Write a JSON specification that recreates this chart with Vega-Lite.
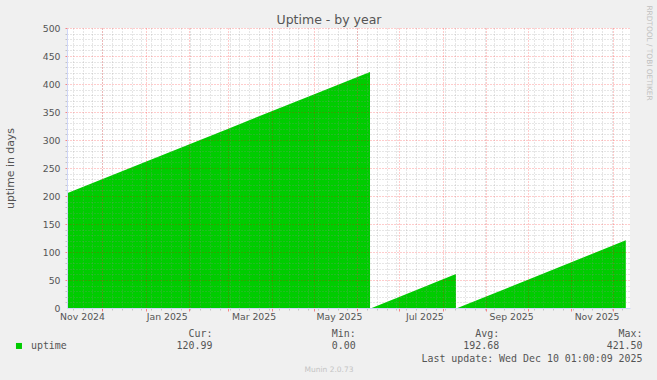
{
  "$schema": "https://vega.github.io/schema/vega-lite/v6.json",
  "width": 563,
  "height": 280,
  "autosize": {"type": "none"},
  "padding": {"left": 67, "top": 28, "right": 27, "bottom": 72},
  "background": "#f0f0f0",
  "config": {
    "view": {"fill": "#ffffff", "stroke": null},
    "font": "DejaVu Sans",
    "axis": {
      "labelFont": "DejaVu Sans",
      "titleFont": "DejaVu Sans",
      "labelColor": "#555555",
      "titleColor": "#555555",
      "titleFontWeight": "normal",
      "labelFlush": false,
      "labelOverlap": false,
      "labelBound": false
    }
  },
  "data": {
    "values": [
      {"date": "2024-11-05T19:00:00", "uptime": 205.1},
      {"date": "2025-01-01T00:00:00", "uptime": 261.3},
      {"date": "2025-03-01T00:00:00", "uptime": 320.3},
      {"date": "2025-05-01T00:00:00", "uptime": 381.3},
      {"date": "2025-06-10T05:00:00", "uptime": 421.5},
      {"date": "2025-06-10T06:00:00", "uptime": 0},
      {"date": "2025-06-11T10:00:00", "uptime": 0},
      {"date": "2025-07-01T00:00:00", "uptime": 19.6},
      {"date": "2025-08-10T14:00:00", "uptime": 60.5},
      {"date": "2025-08-10T15:00:00", "uptime": 0},
      {"date": "2025-08-11T16:00:00", "uptime": 0},
      {"date": "2025-10-01T00:00:00", "uptime": 50.3},
      {"date": "2025-12-09T22:00:00", "uptime": 121.0}
    ]
  },
  "layer": [
    {
      "mark": {"type": "area", "interpolate": "linear"},
      "encoding": {
        "x": {
          "field": "date", "type": "temporal",
          "scale": {"domain": [{"year": 2024, "month": 11, "date": 5, "hours": 19}, {"year": 2025, "month": 12, "date": 12, "hours": 22}], "nice": false},
          "axis": {
            "orient": "bottom",
            "values": [
              {"year": 2024, "month": 11, "date": 16, "hours": 12},
              {"year": 2025, "month": 1, "date": 16},
              {"year": 2025, "month": 3, "date": 19},
              {"year": 2025, "month": 5, "date": 19},
              {"year": 2025, "month": 7, "date": 19},
              {"year": 2025, "month": 9, "date": 19},
              {"year": 2025, "month": 11, "date": 19}
            ],
            "format": "%b %Y",
            "labelFontSize": 9.3,
            "labelPadding": 4,
            "ticks": false,
            "tickSize": 0,
            "grid": false,
            "domain": true,
            "domainColor": "#cfd6f8",
            "domainWidth": 1,
            "zindex": 2,
            "title": [
              "Cur:\u00a0\u00a0\u00a0\u00a0\u00a0\u00a0\u00a0\u00a0\u00a0\u00a0\u00a0\u00a0\u00a0\u00a0\u00a0\u00a0\u00a0\u00a0\u00a0\u00a0Min:\u00a0\u00a0\u00a0\u00a0\u00a0\u00a0\u00a0\u00a0\u00a0\u00a0\u00a0\u00a0\u00a0\u00a0\u00a0\u00a0\u00a0\u00a0\u00a0\u00a0Avg:\u00a0\u00a0\u00a0\u00a0\u00a0\u00a0\u00a0\u00a0\u00a0\u00a0\u00a0\u00a0\u00a0\u00a0\u00a0\u00a0\u00a0\u00a0\u00a0\u00a0Max:\u00a0\u00a0",
              "120.99\u00a0\u00a0\u00a0\u00a0\u00a0\u00a0\u00a0\u00a0\u00a0\u00a0\u00a0\u00a0\u00a0\u00a0\u00a0\u00a0\u00a0\u00a0\u00a0\u00a00.00\u00a0\u00a0\u00a0\u00a0\u00a0\u00a0\u00a0\u00a0\u00a0\u00a0\u00a0\u00a0\u00a0\u00a0\u00a0\u00a0\u00a0\u00a0192.68\u00a0\u00a0\u00a0\u00a0\u00a0\u00a0\u00a0\u00a0\u00a0\u00a0\u00a0\u00a0\u00a0\u00a0\u00a0\u00a0\u00a0\u00a0421.50",
              "Last update: Wed Dec 10 01:00:09 2025"
            ],
            "titleFont": "DejaVu Sans Mono",
            "titleFontSize": 9.93,
            "titleAlign": "right",
            "titleBaseline": "alphabetic",
            "titleX": 575,
            "titleY": 28.3,
            "titleLineHeight": 12.4,
            "titleAngle": 0
          }
        },
        "y": {
          "field": "uptime", "type": "quantitative",
          "scale": {"domain": [0, 500], "nice": false},
          "axis": {
            "orient": "left",
            "values": [0, 50, 100, 150, 200, 250, 300, 350, 400, 450, 500],
            "labelFontSize": 9.3,
            "labelPadding": 7,
            "ticks": false,
            "tickSize": 0,
            "grid": false,
            "domain": true,
            "domainColor": "#cfd6f8",
            "domainWidth": 1,
            "zindex": 2,
            "title": "uptime in days",
            "titleFontSize": 10.9,
            "titleX": -57,
            "titleY": 140,
            "titleAngle": -90,
            "titleAlign": "center",
            "titleBaseline": "middle"
          }
        },
        "color": {
          "datum": "uptime",
          "scale": {"range": ["#00cc00"]},
          "legend": {
            "title": null,
            "orient": "none",
            "legendX": -53,
            "legendY": 313,
            "symbolType": "square",
            "symbolSize": 36,
            "symbolStrokeWidth": 0,
            "symbolOpacity": 1,
            "labelFont": "DejaVu Sans Mono",
            "labelFontSize": 9.93,
            "labelColor": "#555555",
            "labelOffset": 7,
            "padding": 0
          }
        }
      }
    },
    {
      "mark": {"type": "point", "opacity": 0},
      "encoding": {
        "x": {
          "field": "date", "type": "temporal",
          "scale": {"domain": [{"year": 2024, "month": 11, "date": 5, "hours": 19}, {"year": 2025, "month": 12, "date": 12, "hours": 22}], "nice": false},
          "axis": {
            "orient": "bottom",
            "tickCount": {"interval": "week", "step": 1},
            "labels": false,
            "domain": false,
            "ticks": true,
            "tickSize": 2,
            "tickColor": "#8f8f8f",
            "tickOpacity": 0.45,
            "grid": true,
            "gridColor": "#8f8f8f",
            "gridOpacity": 0.45,
            "gridDash": [1, 2],
            "zindex": 1,
            "title": "Munin 2.0.73",
            "titleFontSize": 7.5,
            "titleColor": "#c4c4c4",
            "titleX": 261.5,
            "titleY": 63.7,
            "titleAlign": "center",
            "titleBaseline": "alphabetic",
            "titleAngle": 0
          }
        },
        "y": {
          "field": "uptime", "type": "quantitative",
          "scale": {"domain": [0, 500], "nice": false},
          "axis": {
            "orient": "left",
            "values": [10, 20, 30, 40, 60, 70, 80, 90, 110, 120, 130, 140, 160, 170, 180, 190, 210, 220, 230, 240, 260, 270, 280, 290, 310, 320, 330, 340, 360, 370, 380, 390, 410, 420, 430, 440, 460, 470, 480, 490],
            "labels": false,
            "domain": false,
            "ticks": true,
            "tickSize": 2,
            "tickColor": "#8f8f8f",
            "tickOpacity": 0.45,
            "grid": true,
            "gridColor": "#8f8f8f",
            "gridOpacity": 0.45,
            "gridDash": [1, 2],
            "zindex": 1,
            "title": null
          }
        }
      }
    },
    {
      "mark": {"type": "point", "opacity": 0},
      "encoding": {
        "x": {
          "field": "date", "type": "temporal",
          "scale": {"domain": [{"year": 2024, "month": 11, "date": 5, "hours": 19}, {"year": 2025, "month": 12, "date": 12, "hours": 22}], "nice": false},
          "axis": {
            "orient": "bottom",
            "tickCount": {"interval": "month", "step": 1},
            "labels": false,
            "domain": false,
            "ticks": true,
            "tickSize": 3,
            "tickColor": "#ff0000",
            "tickOpacity": 0.45,
            "grid": true,
            "gridColor": "#ff0000",
            "gridOpacity": 0.4,
            "gridDash": [1, 2],
            "zindex": 1,
            "title": "Uptime - by year",
            "titleFontSize": 12.5,
            "titleColor": "#555555",
            "titleX": 261.5,
            "titleY": -284.5,
            "titleAlign": "center",
            "titleBaseline": "alphabetic",
            "titleAngle": 0
          }
        },
        "y": {
          "field": "uptime", "type": "quantitative",
          "scale": {"domain": [0, 500], "nice": false},
          "axis": {
            "orient": "left",
            "values": [50, 100, 150, 200, 250, 300, 350, 400, 450, 500],
            "labels": false,
            "domain": false,
            "ticks": true,
            "tickSize": 2,
            "tickColor": "#ff0000",
            "tickOpacity": 0.45,
            "grid": true,
            "gridColor": "#ff0000",
            "gridOpacity": 0.4,
            "gridDash": [1, 2],
            "zindex": 1,
            "title": null
          }
        }
      }
    },
    {
      "mark": {"type": "point", "opacity": 0},
      "encoding": {
        "x": {
          "field": "date", "type": "temporal",
          "scale": {"domain": [{"year": 2024, "month": 11, "date": 5, "hours": 19}, {"year": 2025, "month": 12, "date": 12, "hours": 22}], "nice": false},
          "axis": null
        },
        "y": {
          "field": "uptime", "type": "quantitative",
          "scale": {"domain": [0, 500], "nice": false},
          "axis": {
            "orient": "right",
            "labels": false,
            "domain": false,
            "ticks": false,
            "grid": false,
            "title": "RRDTOOL / TOBI OETIKER",
            "titleFontSize": 7.4,
            "titleColor": "#c0c0c0",
            "titleX": 18,
            "titleY": 24.5,
            "titleAngle": 90,
            "titleAlign": "center",
            "titleBaseline": "middle"
          }
        }
      }
    }
  ],
  "resolve": {"axis": {"x": "independent", "y": "independent"}}
}
